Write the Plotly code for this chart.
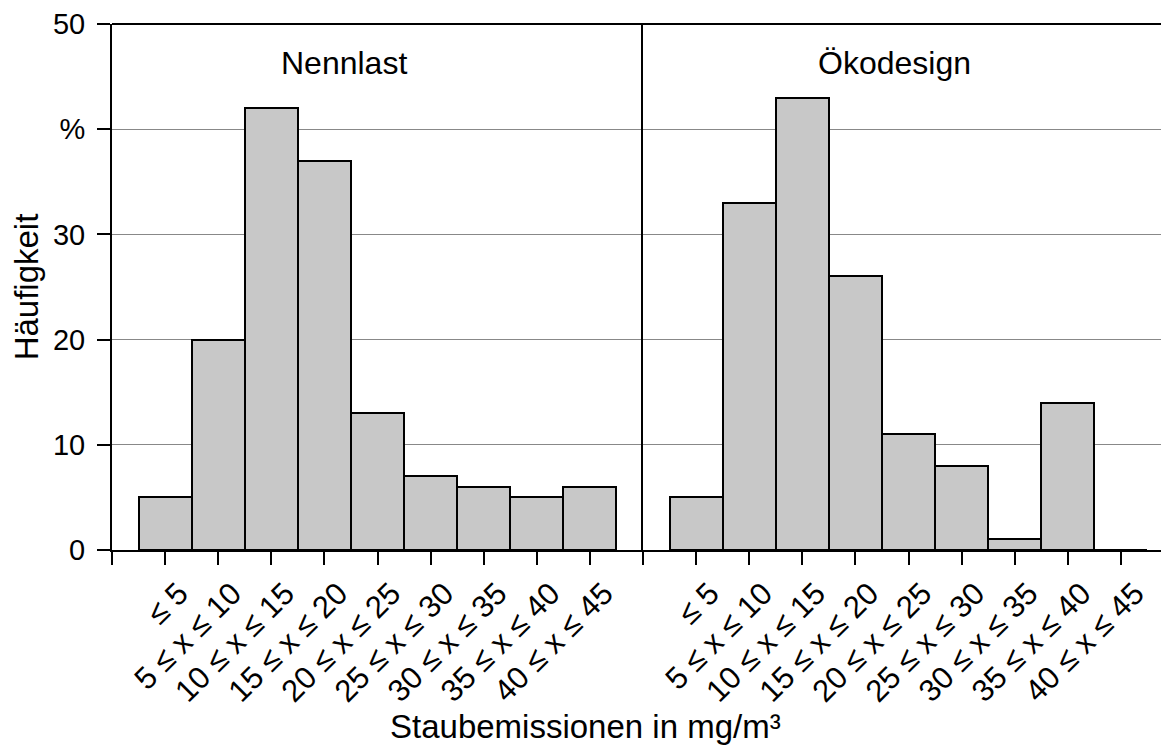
import plotly.graph_objects as go

categories = ["≤ 5", "5 ≤ x ≤ 10", "10 ≤ x ≤ 15", "15 ≤ x ≤ 20", "20 ≤ x ≤ 25",
              "25 ≤ x ≤ 30", "30 ≤ x ≤ 35", "35 ≤ x ≤ 40", "40 ≤ x ≤ 45"]
nennlast = [5, 20, 42, 37, 13, 7, 6, 5, 6]
oekodesign = [5, 33, 43, 26, 11, 8, 1, 14, 0]
panel_titles = ["Nennlast", "Ökodesign"]
y_tickvals = [0, 10, 20, 30, 40, 50]
y_ticktext = ["0", "10", "20", "30", "%", "50"]

positions = list(range(1, len(categories) + 1))
FONT = "Liberation Sans, Arial, sans-serif"
OFF = 8  # page body margin
W, H = 1169 - OFF, 746 - OFF
ML, MR, MT, MB = 112 - OFF, 0, 24 - OFF, 204 - OFF
plot_w = W - ML - MR
plot_h = H - MT - MB
left_px = 531
d1 = left_px / plot_w
unit = left_px / 10.0
right_range = (plot_w - left_px) / unit
X0, Y0 = 112, 542  # screen position of plot origin


def px_x(sx):
    return (sx - X0) / plot_w


def px_y(sy):
    return (Y0 - sy) / plot_h


fig = go.Figure()
bar_style = dict(marker=dict(color="#c8c8c8", line=dict(color="black", width=2)),
                 width=1, showlegend=False, hoverinfo="skip")
fig.add_trace(go.Bar(x=positions, y=nennlast, xaxis="x", yaxis="y", **bar_style))
fig.add_trace(go.Bar(x=positions, y=oekodesign, xaxis="x2", yaxis="y2", **bar_style))

tickvals = [0] + positions
ticktext = [""] + categories
xcommon = dict(tickmode="array", tickvals=tickvals, ticktext=ticktext, tickangle=-45,
               ticks="outside", ticklen=13, tickwidth=2, tickcolor="black",
               showline=True, linecolor="black", linewidth=2, showgrid=False,
               zeroline=False, tickfont=dict(family=FONT, size=31, color="black"),
               ticklabelstandoff=-2, ticklabelshift=14)
ycommon = dict(range=[0, 50], showgrid=True, gridcolor="#888888", gridwidth=1,
               zeroline=False, showline=True, linecolor="black", linewidth=2)

fig.update_layout(
    width=W, height=H, margin=dict(l=ML, r=MR, t=MT, b=MB),
    plot_bgcolor="white", paper_bgcolor="white",
    font=dict(family=FONT, color="black"),
    bargap=0,
    xaxis=dict(domain=[0, d1], range=[0, 10], anchor="y", **xcommon),
    xaxis2=dict(domain=[d1, 1], range=[0, right_range], anchor="y2", **xcommon),
    yaxis=dict(anchor="x", tickmode="array", tickvals=y_tickvals, ticktext=y_ticktext,
               ticks="outside", ticklen=13, tickwidth=2, tickcolor="black",
               tickfont=dict(family=FONT, size=29, color="black"), ticklabelstandoff=6,
               title=dict(text="Häufigkeit", font=dict(family=FONT, size=33, color="black"),
                          standoff=9),
               **ycommon),
    yaxis2=dict(anchor="x2", showticklabels=False, ticks="", **ycommon),
    shapes=[dict(type="line", xref="paper", yref="paper", x0=0, x1=1, y0=1, y1=1,
                 line=dict(color="black", width=2))],
    annotations=[
        dict(text=panel_titles[0], x=px_x(344), y=px_y(55),
             xref="paper", yref="paper", showarrow=False,
             xanchor="center", yanchor="middle",
             font=dict(family=FONT, size=32, color="black")),
        dict(text=panel_titles[1], x=px_x(894), y=px_y(55),
             xref="paper", yref="paper", showarrow=False,
             xanchor="center", yanchor="middle",
             font=dict(family=FONT, size=32, color="black")),
        dict(text="Staubemissionen in mg/m³", x=px_x(585), y=px_y(718),
             xref="paper", yref="paper",
             showarrow=False, xanchor="center", yanchor="middle",
             font=dict(family=FONT, size=33, color="black")),
    ],
)

fig.write_html("out.html")
